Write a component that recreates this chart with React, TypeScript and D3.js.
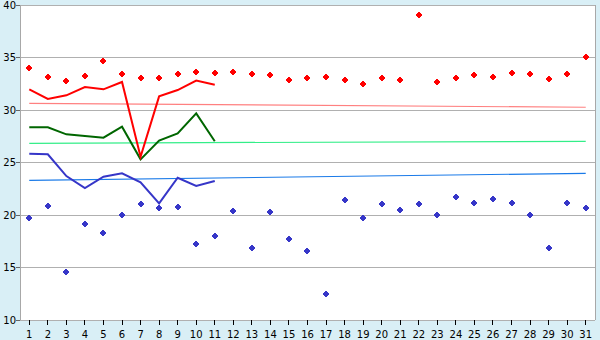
import React from "react";
import * as d3 from "d3";

const days = d3.range(1, 32).map(String);
const yTicks = [10, 15, 20, 25, 30, 35, 40];

const redPoints = [34.0, 33.1, 32.76, 33.2, 34.64, 33.43, 33.02, 33.02, 33.4, 33.62, 33.49, 33.59, 33.4, 33.3, 32.83, 33.02, 33.1, 32.83, 32.45, 33.02, 32.83, 39.02, 32.64, 33.02, 33.3, 33.1, 33.5, 33.4, 32.92, 33.4, 35.02];
const bluePoints = [19.68, 20.83, 14.54, 19.11, 18.25, 19.97, 21.02, 20.7, 20.73, 17.21, 17.97, 20.35, 16.83, 20.26, 17.68, 16.54, 12.45, 21.4, 19.68, 21.02, 20.45, 21.02, 19.97, 21.69, 21.11, 21.5, 21.11, 19.97, 16.83, 21.11, 20.64];
const redLine = [31.97, 31.05, 31.4, 32.19, 31.97, 32.67, 25.55, 31.3, 31.9, 32.8, 32.41];
const greenLine = [28.35, 28.35, 27.68, 27.52, 27.36, 28.41, 25.3, 27.08, 27.78, 29.68, 27.02];
const blueLine = [25.84, 25.78, 23.71, 22.57, 23.65, 23.97, 23.11, 21.11, 23.55, 22.76, 23.24];
const redTrend = [30.64, 30.26];
const greenTrend = [26.83, 27.02];
const blueTrend = [23.3, 23.97];

const W = 600, H = 340;
const L = 20, R = 595, T = 5, B = 320;

export default function App() {
  const x = d3.scaleBand<string>().domain(days).range([L, R]);
  const cx = (i: number) => (x(days[i]) as number) + x.bandwidth() / 2;
  const y = d3.scaleLinear().domain([10, 40]).range([B, T]);

  const line = d3.line<number>().x((_, i) => cx(i)).y((d) => y(d));
  const marker = "M-1,-3h2v1h1v1h1v2h-1v1h-1v1h-2v-1h-1v-1h-1v-2h1v-1h1z";
  const trend = (t: number[], color: string) => (
    <line x1={cx(0)} x2={cx(30)} y1={y(t[0])} y2={y(t[1])} stroke={color} strokeWidth={1.2} />
  );

  return (
    <svg width={W} height={H} style={{ position: "absolute", left: 0, top: 0 }} fontFamily="DejaVu Sans" fontSize={10}>
      <rect x={0} y={0} width={W} height={H} fill="#d9eff6" />
      <rect x={L} y={T} width={R - L} height={B - T} fill="#ffffff" />
      {yTicks.map((t) => (
        <g key={t}>
          <line x1={L} x2={R} y1={y(t)} y2={y(t)} stroke="#b0b0b0" strokeWidth={1} shapeRendering="crispEdges" />
          <line x1={L - 4} x2={L} y1={y(t)} y2={y(t)} stroke="#666" strokeWidth={1} shapeRendering="crispEdges" />
          <text x={L - 4} y={y(t)} dy="0.36em" textAnchor="end" fill="#000">{t}</text>
        </g>
      ))}
      <line x1={L} x2={L} y1={T} y2={B} stroke="#a8a8a8" shapeRendering="crispEdges" />
      <line x1={R} x2={R} y1={T} y2={B} stroke="#a8a8a8" shapeRendering="crispEdges" />
      {days.map((d, i) => (
        <g key={d}>
          <line x1={cx(i)} x2={cx(i)} y1={B} y2={B + 5} stroke="#000" shapeRendering="crispEdges" />
          <text x={cx(i)} y={B + 18} textAnchor="middle" fill="#000">{d}</text>
        </g>
      ))}
      {trend(redTrend, "#ff8080")}
      {trend(greenTrend, "#33ee88")}
      {trend(blueTrend, "#1a7ae8")}
      <path d={line(blueLine) || ""} fill="none" stroke="#3636c8" strokeWidth={2} />
      <path d={line(greenLine) || ""} fill="none" stroke="#006600" strokeWidth={2} />
      <path d={line(redLine) || ""} fill="none" stroke="#ff0000" strokeWidth={2} />
      {redPoints.map((v, i) => (
        <path key={"r" + i} d={marker} transform={`translate(${Math.round(cx(i))},${Math.round(y(v))})`} fill="#ff0000" />
      ))}
      {bluePoints.map((v, i) => (
        <path key={"b" + i} d={marker} transform={`translate(${Math.round(cx(i))},${Math.round(y(v))})`} fill="#3636c8" />
      ))}
    </svg>
  );
}
